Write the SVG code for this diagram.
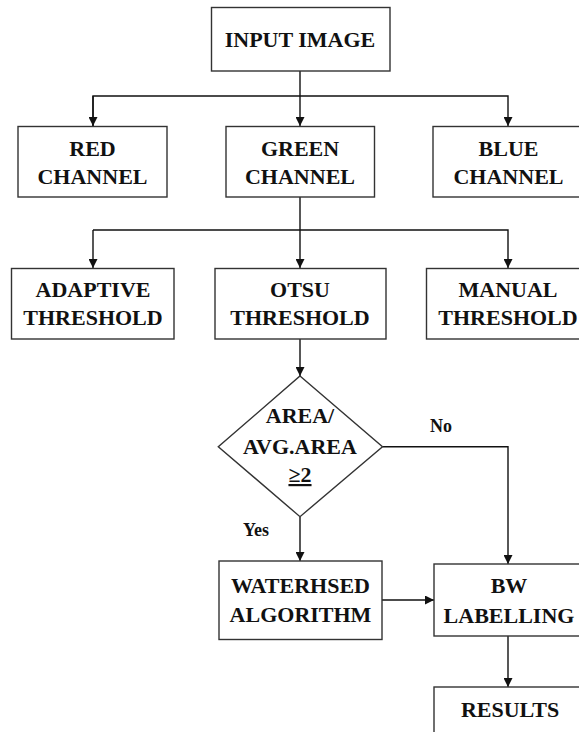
<svg xmlns="http://www.w3.org/2000/svg" width="579" height="732" viewBox="0 0 579 732">
<style>
.box{fill:#fff;stroke:#333;stroke-width:1.4}
.t{font-family:"Liberation Serif","Times New Roman",serif;font-weight:bold;font-size:22px;fill:#111;text-anchor:middle}
.s{font-family:"Liberation Serif","Times New Roman",serif;font-weight:bold;font-size:18px;fill:#111;text-anchor:middle}
.c{fill:none;stroke:#111;stroke-width:1.4}
</style>
<defs>
<marker id="ah" viewBox="0 0 10 10" refX="10" refY="5" markerWidth="9" markerHeight="9" markerUnits="userSpaceOnUse" orient="auto">
<path d="M0,0 L10,5 L0,10 z" fill="#111"/>
</marker>
</defs>
<rect width="579" height="732" fill="#fff"/>
<g id="connectors">
<line class="c" x1="300" y1="71" x2="300" y2="126" marker-end="url(#ah)"/>
<polyline class="c" points="93,126 93,96 508,96 508,126" marker-end="url(#ah)"/>
<path class="c" d="M93,96 L93,126" marker-end="url(#ah)"/>
<line class="c" x1="300" y1="197" x2="300" y2="268" marker-end="url(#ah)"/>
<path class="c" d="M93,230 L508,230 L508,268" marker-end="url(#ah)"/>
<path class="c" d="M93,230 L93,268" marker-end="url(#ah)"/>
<line class="c" x1="300" y1="339" x2="300" y2="376" marker-end="url(#ah)"/>
<path class="c" d="M382.5,446.7 L508,446.7 L508,564" marker-end="url(#ah)"/>
<line class="c" x1="300" y1="516.7" x2="300" y2="561" marker-end="url(#ah)"/>
<line class="c" x1="382" y1="600" x2="434" y2="600" marker-end="url(#ah)"/>
<line class="c" x1="508" y1="636" x2="508" y2="687" marker-end="url(#ah)"/>
<text class="s" x="441" y="432">No</text>
<text class="s" x="256" y="536">Yes</text>
</g>
<g id="input">
<rect class="box" x="211.5" y="7.5" width="178.5" height="63.5"/>
<text class="t" x="300" y="47">INPUT IMAGE</text>
</g>
<g id="red">
<rect class="box" x="18" y="126.5" width="149" height="70.5"/>
<text class="t" x="92.5" y="156">RED</text>
<text class="t" x="92.5" y="184">CHANNEL</text>
</g>
<g id="green">
<rect class="box" x="226" y="126.5" width="148.5" height="70.5"/>
<text class="t" x="300" y="156">GREEN</text>
<text class="t" x="300" y="184">CHANNEL</text>
</g>
<g id="blue">
<rect class="box" x="433" y="126.5" width="151" height="70.5"/>
<text class="t" x="508.5" y="156">BLUE</text>
<text class="t" x="508.5" y="184">CHANNEL</text>
</g>
<g id="adaptive">
<rect class="box" x="11.5" y="268.5" width="162.5" height="70.5"/>
<text class="t" x="93" y="297">ADAPTIVE</text>
<text class="t" x="93" y="325">THRESHOLD</text>
</g>
<g id="otsu">
<rect class="box" x="215" y="268.5" width="171" height="70.5"/>
<text class="t" x="300" y="297">OTSU</text>
<text class="t" x="300" y="325">THRESHOLD</text>
</g>
<g id="manual">
<rect class="box" x="426.5" y="268.5" width="163" height="70.5"/>
<text class="t" x="508" y="297">MANUAL</text>
<text class="t" x="508" y="325">THRESHOLD</text>
</g>
<g id="decision">
<polygon class="box" points="300,376 382.5,446.7 300,516.7 218.3,446.7"/>
<text class="t" x="300" y="423">AREA/</text>
<text class="t" x="300" y="454">AVG.AREA</text>
<text class="t" x="300" y="482" text-decoration="underline">≥2</text>
</g>
<g id="watershed">
<rect class="box" x="219" y="561" width="163" height="78.5"/>
<text class="t" x="300.5" y="593">WATERHSED</text>
<text class="t" x="300.5" y="622">ALGORITHM</text>
</g>
<g id="bw">
<rect class="box" x="434" y="564" width="150" height="72"/>
<text class="t" x="509" y="593">BW</text>
<text class="t" x="509" y="623">LABELLING</text>
</g>
<g id="results">
<rect class="box" x="434" y="687" width="150" height="60"/>
<text class="t" x="510" y="717">RESULTS</text>
</g>
</svg>
